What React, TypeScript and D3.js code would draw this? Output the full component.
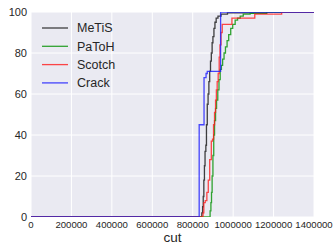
import React, { useEffect, useRef } from 'react';
import * as d3 from 'd3';

// empirical CDF points: [cut, percent]
const metis: [number, number][] = [
  [0, 0], [842000, 0], [845000, 2], [849000, 5], [852000, 10], [855000, 18], [858000, 25],
  [861000, 32], [865000, 35], [868000, 45], [872000, 55], [876000, 60], [880000, 66],
  [884000, 71], [888000, 76], [892000, 80], [896000, 85], [900000, 88], [905000, 92],
  [910000, 95], [916000, 97], [925000, 98], [940000, 99], [972000, 99.6], [1166000, 100], [1400000, 100],
];
const patoh: [number, number][] = [
  [0, 0], [883000, 0], [886000, 3], [890000, 7], [893000, 12], [896000, 20], [900000, 30],
  [904000, 40], [908000, 47], [913000, 53], [918000, 57], [924000, 62], [930000, 67],
  [936000, 72], [942000, 74], [948000, 77], [955000, 80], [962000, 83], [970000, 86],
  [978000, 89], [988000, 92], [998000, 94], [1010000, 96], [1022000, 97], [1035000, 98],
  [1050000, 99], [1084000, 99.4], [1166000, 100], [1400000, 100],
];
const scotch: [number, number][] = [
  [0, 0], [847000, 0], [851000, 2], [855000, 7], [862000, 8], [870000, 12], [877000, 18],
  [884000, 28], [892000, 37], [898000, 38], [903000, 45], [908000, 51], [913000, 57],
  [917000, 62], [921000, 66], [926000, 70], [931000, 78], [935000, 84], [940000, 90],
  [946000, 94], [994000, 97], [1107000, 99], [1240000, 100], [1400000, 100],
];
const crack: [number, number][] = [
  [0, 0], [832000, 0], [832000, 45], [856000, 45], [856000, 68], [866000, 68], [866000, 70],
  [872000, 70], [872000, 71], [938000, 71], [938000, 100], [1400000, 100],
];

const seriesNames = ['MeTiS', 'PaToH', 'Scotch', 'Crack'];
const seriesData = [metis, patoh, scotch, crack];
const seriesColors = ['#111111', '#009000', '#ff1a1a', '#1a1aff'];

const xTicks = [0, 200000, 400000, 600000, 800000, 1000000, 1200000, 1400000];
const yTicks = [0, 20, 40, 60, 80, 100];

const W = 335;
const H = 244;
const margin = { top: 12, right: 21, bottom: 27, left: 31 };

function App() {
  const ref = useRef<SVGSVGElement>(null);

  useEffect(() => {
    const svg = d3.select(ref.current);
    svg.selectAll('*').remove();

    const iw = W - margin.left - margin.right;
    const ih = H - margin.top - margin.bottom;

    const x = d3.scaleLinear().domain([0, 1400000]).range([0, iw]);
    const y = d3.scaleLinear().domain([0, 100]).range([ih, 0]);

    const g = svg.append('g').attr('transform', `translate(${margin.left},${margin.top})`);

    g.append('rect').attr('width', iw).attr('height', ih).attr('fill', '#EAEAF2');

    // grid
    g.selectAll('.gx').data(xTicks).enter().append('line')
      .attr('x1', d => x(d)).attr('x2', d => x(d)).attr('y1', 0).attr('y2', ih)
      .attr('stroke', '#fff').attr('stroke-width', 1);
    g.selectAll('.gy').data(yTicks).enter().append('line')
      .attr('x1', 0).attr('x2', iw).attr('y1', d => y(d)).attr('y2', d => y(d))
      .attr('stroke', '#fff').attr('stroke-width', 1);

    svg.append('clipPath').attr('id', 'clip')
      .append('rect').attr('width', iw).attr('height', ih);

    const line = d3.line<[number, number]>()
      .x(d => x(d[0])).y(d => y(d[1]))
      .curve(d3.curveStepAfter);

    const lines = g.append('g').attr('clip-path', 'url(#clip)');
    seriesData.forEach((s, i) => {
      lines.append('path')
        .attr('d', line(s))
        .attr('fill', 'none')
        .attr('stroke', seriesColors[i])
        .attr('stroke-opacity', 0.8)
        .attr('stroke-width', 1.3);
    });

    // ticks
    g.selectAll('.tx').data(xTicks).enter().append('text')
      .attr('x', d => x(d)).attr('y', ih + 11)
      .attr('text-anchor', 'middle')
      .attr('font-family', 'Liberation Sans, Arial, sans-serif')
      .attr('font-size', 9.6).attr('fill', '#262626')
      .text(d => String(d));
    g.selectAll('.ty').data(yTicks).enter().append('text')
      .attr('x', -4).attr('y', d => y(d)).attr('dy', '0.35em')
      .attr('text-anchor', 'end')
      .attr('font-family', 'Liberation Sans, Arial, sans-serif')
      .attr('font-size', 11).attr('fill', '#262626')
      .text(d => String(d));

    g.append('text')
      .attr('x', iw / 2).attr('y', ih + 24.5)
      .attr('text-anchor', 'middle')
      .attr('font-family', 'Liberation Sans, Arial, sans-serif')
      .attr('font-size', 13.5).attr('fill', '#262626')
      .text('cut');

    // legend
    const leg = g.append('g').attr('transform', 'translate(11,16)');
    seriesNames.forEach((name, i) => {
      const row = leg.append('g').attr('transform', `translate(0,${i * 18.3})`);
      row.append('line').attr('x1', 0).attr('x2', 26).attr('y1', 0).attr('y2', 0)
        .attr('stroke', seriesColors[i]).attr('stroke-opacity', 0.8).attr('stroke-width', 1.3);
      row.append('text').attr('x', 35).attr('y', 0).attr('dy', '0.35em')
        .attr('font-family', 'Liberation Sans, Arial, sans-serif')
        .attr('font-size', 12.5).attr('fill', '#262626')
        .text(name);
    });
  }, []);

  return (
    <div style={{ position: 'absolute', left: 0, top: 0 }}>
      <svg ref={ref} width={W} height={H} style={{ display: 'block', background: '#fff' }} />
    </div>
  );
}

export default App;
